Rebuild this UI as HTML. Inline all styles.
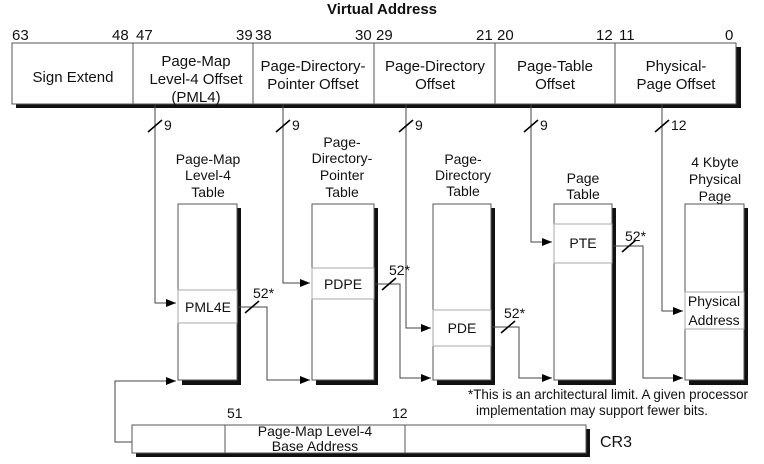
<!DOCTYPE html>
<html><head><meta charset="utf-8"><style>
html,body{margin:0;padding:0;background:#fff;}
svg{display:block;font-family:"Liberation Sans",Arial,sans-serif;}
text{font-size:14px;fill:#111;}
.b{font-size:15px;}
</style></head><body>
<svg width="764" height="464" viewBox="0 0 764 464" xmlns="http://www.w3.org/2000/svg">
<defs><marker id="a" markerWidth="10" markerHeight="8" refX="10" refY="4" orient="auto" markerUnits="userSpaceOnUse"><path d="M0,0 L10,4 L0,8 z" fill="#000"/></marker></defs>
<text x="382" y="14" text-anchor="middle" font-weight="bold" style="font-size:15px">Virtual Address</text>
<g class="b">
<text class="b" x="12" y="40">63</text><text class="b" x="112" y="40">48</text><text class="b" x="136" y="40">47</text><text class="b" x="236" y="40">39</text><text class="b" x="255" y="40">38</text><text class="b" x="355" y="40">30</text><text class="b" x="376" y="40">29</text><text class="b" x="476" y="40">21</text><text class="b" x="497" y="40">20</text><text class="b" x="596" y="40">12</text><text class="b" x="619" y="40">11</text><text class="b" x="725" y="40">0</text>
</g>
<rect x="16" y="47" width="725" height="61" fill="#111"/>
<rect x="12" y="43" width="724" height="61" fill="#fff" stroke="#555"/>
<g stroke="#555"><line x1="133" y1="43" x2="133" y2="104"/><line x1="253" y1="43" x2="253" y2="104"/><line x1="374" y1="43" x2="374" y2="104"/><line x1="495" y1="43" x2="495" y2="104"/><line x1="615" y1="43" x2="615" y2="104"/></g>
<g text-anchor="middle">
<text class="b" x="73" y="82">Sign Extend</text>
<text class="b" x="196" y="66">Page-Map</text><text class="b" x="196" y="84">Level-4 Offset</text><text class="b" x="196" y="102">(PML4)</text>
<text class="b" x="313" y="71">Page-Directory-</text><text class="b" x="313" y="89">Pointer Offset</text>
<text class="b" x="435" y="71">Page-Directory</text><text class="b" x="435" y="89">Offset</text>
<text class="b" x="555" y="71">Page-Table</text><text class="b" x="555" y="89">Offset</text>
<text class="b" x="676" y="71">Physical-</text><text class="b" x="676" y="89">Page Offset</text>
<text x="208" y="164">Page-Map</text><text x="208" y="180">Level-4</text><text x="208" y="197">Table</text>
<text x="342" y="147">Page-</text><text x="342" y="163">Directory-</text><text x="342" y="180">Pointer</text><text x="342" y="197">Table</text>
<text x="463" y="164">Page-</text><text x="463" y="180">Directory</text><text x="463" y="196">Table</text>
<text x="583" y="183">Page</text><text x="583" y="199">Table</text>
<text x="715" y="167">4 Kbyte</text><text x="715" y="184">Physical</text><text x="715" y="201">Page</text>
</g>
<g>
<rect x="182" y="208" width="59" height="177" fill="#111"/><rect x="178" y="204" width="59" height="176" fill="#fff" stroke="#555"/>
<rect x="178" y="290" width="59" height="33" fill="#fff" stroke="#aaa"/>
<rect x="316" y="208" width="62" height="177" fill="#111"/><rect x="312" y="204" width="62" height="176" fill="#fff" stroke="#555"/>
<rect x="312" y="268" width="62" height="31" fill="#fff" stroke="#aaa"/>
<rect x="437" y="208" width="58" height="177" fill="#111"/><rect x="433" y="204" width="58" height="176" fill="#fff" stroke="#555"/>
<rect x="433" y="310" width="58" height="36" fill="#fff" stroke="#aaa"/>
<rect x="558" y="208" width="58" height="177" fill="#111"/><rect x="554" y="204" width="58" height="176" fill="#fff" stroke="#555"/>
<rect x="554" y="224" width="58" height="39" fill="#fff" stroke="#aaa"/>
<rect x="689" y="208" width="59" height="177" fill="#111"/><rect x="685" y="204" width="59" height="176" fill="#fff" stroke="#555"/>
<rect x="685" y="292" width="59" height="37" fill="#fff" stroke="#aaa"/>
</g>
<g text-anchor="middle">
<text x="208" y="312">PML4E</text><text x="343" y="289">PDPE</text><text x="462" y="333">PDE</text><text x="583" y="248">PTE</text>
<text x="714" y="306">Physical</text><text x="714" y="325">Address</text>
</g>
<g stroke="#444" fill="none" stroke-width="1">
<polyline points="155,104 155,303 176,303" marker-end="url(#a)"/>
<polyline points="283,104 283,283 310,283" marker-end="url(#a)"/>
<polyline points="406,104 406,328 431,328" marker-end="url(#a)"/>
<polyline points="531,104 531,242 552,242" marker-end="url(#a)"/>
<polyline points="662,104 662,311 683,311" marker-end="url(#a)"/>
<polyline points="237,307 267,307 267,380 310,380" marker-end="url(#a)"/>
<polyline points="374,284 400,284 400,378 431,378" marker-end="url(#a)"/>
<polyline points="491,327 519,327 519,378 552,378" marker-end="url(#a)"/>
<polyline points="612,246 643,246 643,378 683,378" marker-end="url(#a)"/>
<polyline points="132,442 115,442 115,381 176,381" marker-end="url(#a)"/>
</g>
<g stroke="#000" stroke-width="1.6">
<line x1="148" y1="132" x2="162" y2="120"/><line x1="276" y1="132" x2="290" y2="120"/><line x1="399" y1="132" x2="413" y2="120"/><line x1="524" y1="132" x2="538" y2="120"/><line x1="655" y1="132" x2="669" y2="120"/>
<line x1="245" y1="313" x2="259" y2="301"/><line x1="382" y1="290" x2="396" y2="278"/><line x1="501" y1="333" x2="515" y2="321"/><line x1="622" y1="252" x2="636" y2="240"/>
</g>
<g>
<text x="164" y="130">9</text><text x="292" y="130">9</text><text x="415" y="130">9</text><text x="540" y="130">9</text><text x="671" y="130">12</text>
<text x="253" y="298">52*</text><text x="389" y="275">52*</text><text x="504" y="318">52*</text><text x="625" y="241">52*</text>
<text x="468" y="399" textLength="280" lengthAdjust="spacingAndGlyphs">*This is an architectural limit. A given processor</text>
<text x="476" y="415" textLength="232" lengthAdjust="spacingAndGlyphs">implementation may support fewer bits.</text>
<text x="227" y="418">51</text><text x="392" y="418">12</text>
<text x="600" y="447" style="font-size:16px">CR3</text>
</g>
<rect x="136" y="429" width="454" height="28" fill="#111"/>
<rect x="132" y="425" width="454" height="28" fill="#fff" stroke="#555"/>
<g stroke="#555"><line x1="225" y1="425" x2="225" y2="453"/><line x1="405" y1="425" x2="405" y2="453"/></g>
<g text-anchor="middle"><text x="315" y="436">Page-Map Level-4</text><text x="315" y="451">Base Address</text></g>
</svg>
</body></html>
